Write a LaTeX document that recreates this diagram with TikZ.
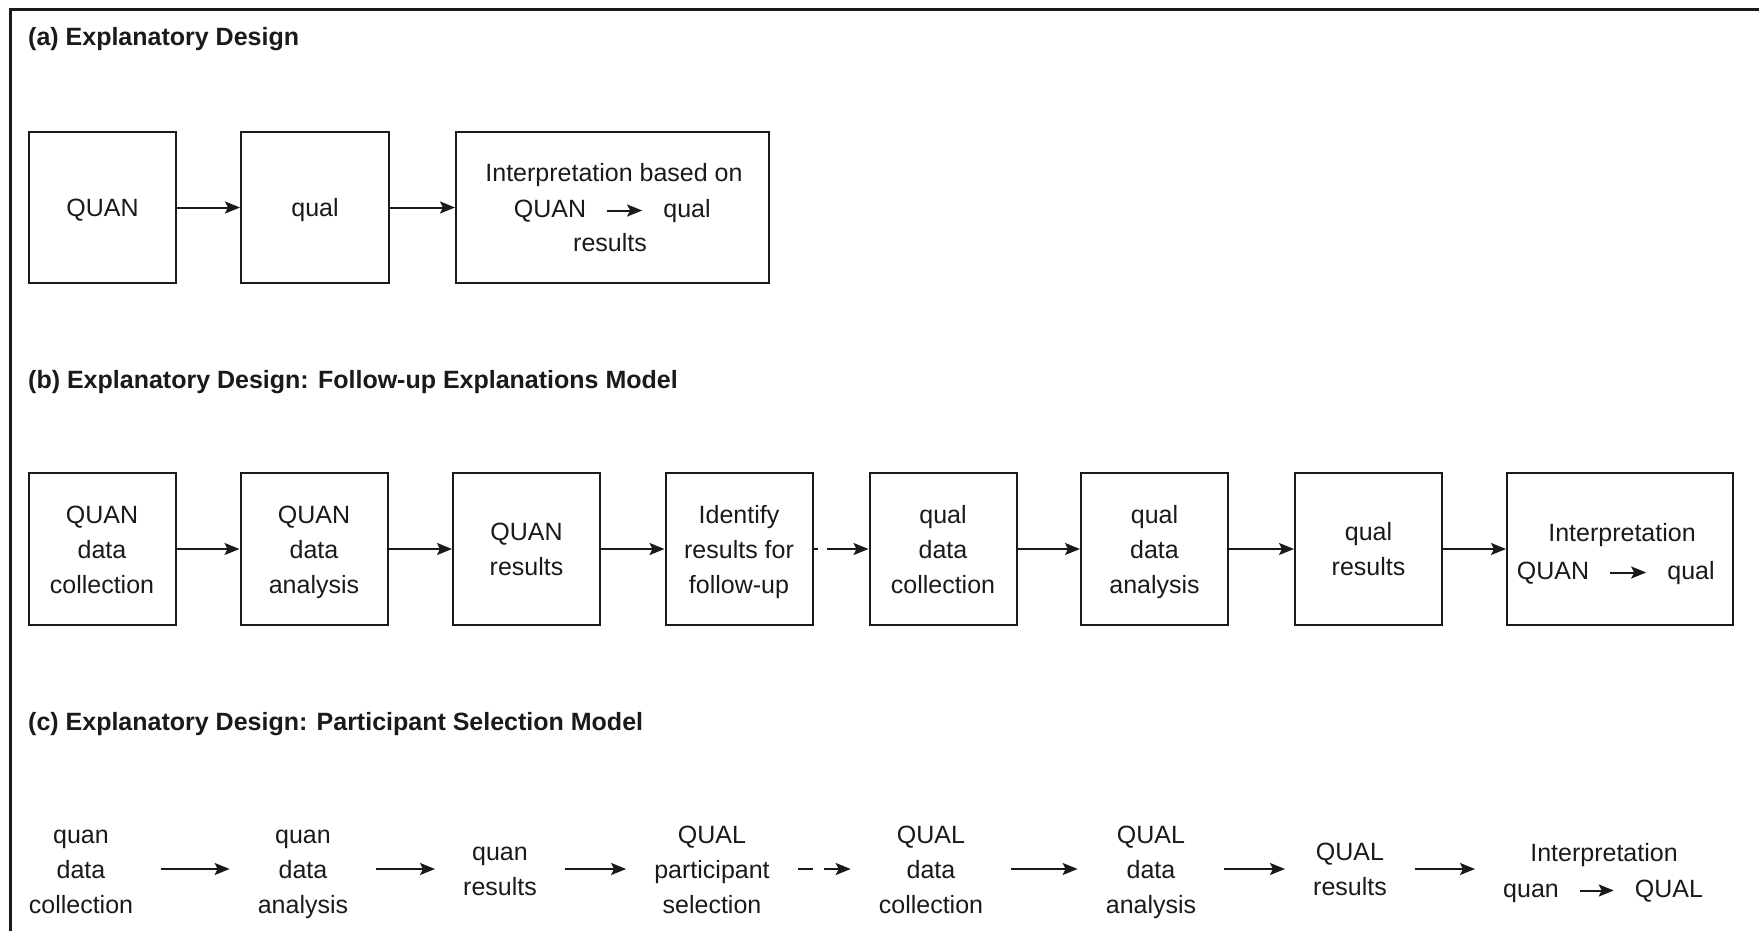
\documentclass[tikz,border=0pt]{standalone}
\usepackage{fontspec}
\setmainfont{Liberation Sans}
\usetikzlibrary{arrows.meta}
\definecolor{ink}{HTML}{1A1A1A}
\newcommand\myst{\rule{0pt}{18pt}}
\begin{document}
\begin{tikzpicture}[x=1pt,y=-1pt,
  txt/.style={inner sep=0pt, align=center, text=ink, text depth=0pt, font=\fontsize{25}{35}\selectfont},
  box/.style={draw=ink, line width=2pt, minimum width=147pt, minimum height=152pt, inner sep=0pt, align=center, text=ink, text depth=0pt, font=\fontsize{25}{35}\selectfont},
  ttl/.style={anchor=base west, inner sep=0pt, text=ink, font=\fontsize{25}{30}\selectfont\bfseries},
  conn/.style={draw=ink, line width=2pt, -{Stealth[length=15pt,width=12pt,inset=3pt]}},
  inl/.style={inner sep=0pt, text=ink, font=\fontsize{25}{35}\selectfont, text height=18pt, text depth=5pt},
  inarr/.style={conn, shorten <=21pt, shorten >=21pt},
  carr/.style={conn, shorten <=28pt, shorten >=28pt},
  dashB/.style={conn, dash pattern=on 4pt off 9pt on 80pt},
  dashC/.style={carr, dash pattern=on 15pt off 11pt on 80pt},
]
\useasboundingbox (0,0) rectangle (1759,931);
\fill[white] (0,0) rectangle (1759,931);
\draw[ink, line width=3pt, line join=miter] (1759,9.5) -| (10.5,931);

% (a)
\node[ttl] (ta) at (28,46) {(a) Explanatory Design};
\node[box, minimum height=151pt] (a1) at (102.5,207.5) {\myst QUAN};
\node[box, minimum height=151pt, minimum width=148pt] (a2) at (315,207.5) {\myst qual};
\node[box, minimum height=151pt, minimum width=313pt] (a3) at (612.5,207.5) {};
\node[inl, anchor=base] (a3t1) at (614,182) {Interpretation based on};
\node[inl, anchor=base] (a3q) at (550,217) {QUAN};
\node[inl, anchor=base] (a3r) at (687,217) {qual};
\node[inl, anchor=base] (a3t3) at (610,251) {results};
\draw[conn] (a1) -- (a2);
\draw[conn] (a2) -- (a3);
\draw[inarr] (a3q) -- (a3r);

% (b)
\node[ttl] (tb) at (28,388) {(b) Explanatory Design: Follow-up Explanations Model};
\node[box] (b1) at (102,549) {\myst QUAN\\data\\collection};
\node[box] (b2) at (314,549) {\myst QUAN\\data\\analysis};
\node[box] (b3) at (526.5,549) {\myst QUAN\\results};
\node[box] (b4) at (739,549) {\myst Identify\\results for\\follow-up};
\node[box] (b5) at (943,549) {\myst qual\\data\\collection};
\node[box] (b6) at (1154.5,549) {\myst qual\\data\\analysis};
\node[box] (b7) at (1368.5,549) {\myst qual\\results};
\node[box, minimum width=226pt] (b8) at (1620,549) {};
\node[inl, anchor=base] (b8t1) at (1622,541) {Interpretation};
\node[inl, anchor=base] (b8q) at (1553,579) {QUAN};
\node[inl, anchor=base] (b8r) at (1691,579) {qual};
\draw[conn] (b1) -- (b2);
\draw[conn] (b2) -- (b3);
\draw[conn] (b3) -- (b4);
\draw[dashB] (b4) -- (b5);
\draw[conn] (b5) -- (b6);
\draw[conn] (b6) -- (b7);
\draw[conn] (b7) -- (b8);
\draw[inarr] (b8q) -- (b8r);

% (c)
\node[ttl] (tc) at (28,730) {(c) Explanatory Design: Participant Selection Model};
\node[txt] (c1) at (81,869) {\myst quan\\data\\collection};
\node[txt] (c2) at (303,869) {\myst quan\\data\\analysis};
\node[txt] (c3) at (500,869) {\myst quan\\results};
\node[txt] (c4) at (712,869) {\myst QUAL\\participant\\selection};
\node[txt] (c5) at (931,869) {\myst QUAL\\data\\collection};
\node[txt] (c6) at (1151,869) {\myst QUAL\\data\\analysis};
\node[txt] (c7) at (1350,869) {\myst QUAL\\results};
\node[inl, anchor=base] (c8t1) at (1604,861) {Interpretation};
\node[inl, anchor=base] (c8a) at (1531,897) {quan};
\node[inl, anchor=base] (c8b) at (1669,897) {QUAL};
\draw[carr] (c1) -- (c2);
\draw[carr] (c2) -- (c3);
\draw[carr] (c3) -- (c4);
\draw[dashC] (c4) -- (c5);
\draw[carr] (c5) -- (c6);
\draw[carr] (c6) -- (c7);
\draw[carr] (c7) -- (c7 -| c8a.west);
\draw[inarr] (c8a) -- (c8b);
\end{tikzpicture}
\end{document}
